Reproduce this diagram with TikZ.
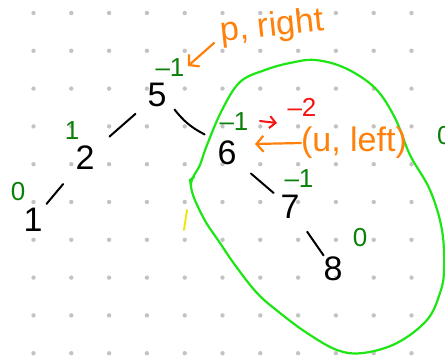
\documentclass[tikz,border=0pt]{standalone}
\usepackage{fontspec}
\setmainfont{Liberation Sans}
\usetikzlibrary{arrows.meta,calc}
\definecolor{dkgreen}{RGB}{10,128,10}
\definecolor{brgreen}{RGB}{30,230,20}
\definecolor{orng}{RGB}{255,128,10}
\definecolor{rd}{RGB}{245,20,20}
\definecolor{ylw}{RGB}{240,230,20}
\definecolor{dotgray}{RGB}{195,195,195}
\tikzset{
  num/.style={font=\fontsize{34}{34}\selectfont, text=black, inner sep=0pt},
  bal/.style={font=\fontsize{26}{26}\selectfont, text=dkgreen, inner sep=0pt},
  note/.style={font=\fontsize{34}{34}\selectfont, text=orng, inner sep=0pt},
  edge/.style={draw=black, line width=2pt, line cap=round},
  barb/.style={-{Straight Barb[length=7pt,width=16pt,line width=2.2pt]}, line width=2.2pt, line cap=round}
}
\begin{document}
\begin{tikzpicture}[x=1pt,y=-1pt]
\useasboundingbox (0,0) rectangle (445,361);
\clip (0,0) rectangle (445,361);
% dot grid
\foreach \i in {0,...,10}{
  \foreach \j in {0,...,9}{
    \fill[dotgray] ({33.5+37.8*\i},{13+37.8*\j}) circle (2.2);
  }
}
% green region
\draw[brgreen, line width=2.2pt, line cap=round] plot[smooth cycle, tension=0.6] coordinates {
 (191,186) (200,165) (207,145) (222,110) (240,82) (265,70) (290,63) (315,60) (345,68)
 (375,88) (395,118) (410,155) (430,190) (442,230) (444,270) (440,293) (427,320)
 (397,343) (363,353) (337,350) (307,333) (280,313) (257,293) (235,265) (220,243) (203,217)};
\draw[brgreen, line width=2.2pt, line cap=round] (191,186) -- (190,180) -- (194,177);
% yellow mark
\coordinate (y1) at (187,210);
\coordinate (y2) at (184,230);
\draw[ylw, line width=2pt, line cap=round] (y1) -- (y2);
% tree nodes
\node[num] (n5) at (157,95) {5};
\node[num] (n2) at (85,158) {2};
\node[num] (n1) at (33,220) {1};
\node[num] (n6) at (227,153) {6};
\node[num] (n7) at (290,207) {7};
\node[num] (n8) at (333,269) {8};
% edges
\draw[edge] ($(n5)!0.30!(n2)$) -- ($(n5)!0.66!(n2)$);
\draw[edge] ($(n2)!0.42!(n1)$) -- ($(n2)!0.74!(n1)$);
\draw[edge] ($(n5)!0.25!(n6)$) to[bend right=12] ($(n5)!0.68!(n6)$);
\draw[edge] ($(n6)!0.38!(n7)$) -- ($(n6)!0.74!(n7)$);
\draw[edge] ($(n7)!0.40!(n8)$) -- ($(n7)!0.78!(n8)$);
% balance labels
\node[bal] (b5) at (170,68) {–1};
\node[bal] (b2) at (72,131) {1};
\node[bal] (b1) at (18,192) {0};
\node[bal] (b6) at (234,122) {–1};
\node[bal] (b7) at (299,179) {–1};
\node[bal] (b8) at (360,238) {0};
\node[bal, anchor=west] (bx) at (437,136) {0};
% red update
\node[bal, text=rd] (r2) at (302,107) {–2};
\coordinate (ra) at (260,121);
\coordinate (rb) at (277,123);
\draw[rd, -{Straight Barb[length=6pt,width=12pt,line width=2pt]}, line width=2pt, line cap=round] (ra) -- (rb);
% orange notes
\node[note, rotate=6] (pr) at (272,27) {p, right};
\node[note] (ul) at (354,143) {(u, left)};
\coordinate (pa) at (188,66);
\coordinate (ps) at (214,43);
\draw[orng, barb] (ps) -- (pa);
\coordinate (ua) at (255,144);
\draw[orng, barb] (ul.west) -- (ua);
\end{tikzpicture}
\end{document}
